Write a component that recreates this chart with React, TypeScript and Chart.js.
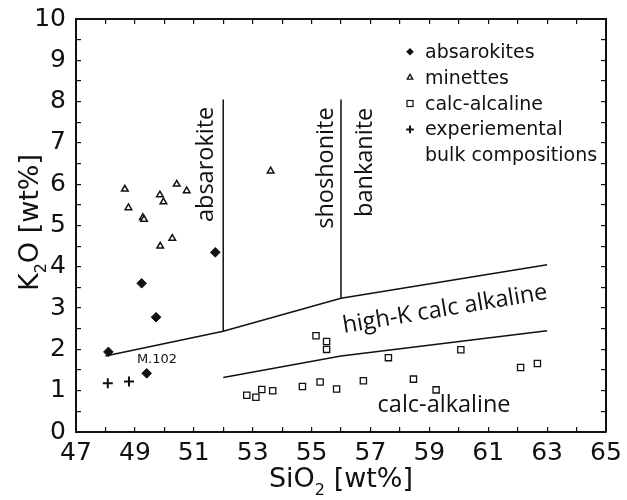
import { useEffect, useRef } from 'react';
import { Chart, registerables } from 'chart.js';

Chart.register(...registerables);

type Pt = [number, number];

// SiO2 [wt%], K2O [wt%]
const absarokites: Pt[] = [
  [48.1, 1.94], [49.23, 3.6], [49.72, 2.78], [49.4, 1.42], [51.73, 4.35],
];
const minettes: Pt[] = [
  [48.66, 5.88], [48.78, 5.43], [49.27, 5.19], [49.31, 5.15], [49.85, 5.74],
  [49.97, 5.57], [50.42, 6.0], [50.76, 5.84], [50.27, 4.69], [49.86, 4.5],
  [53.61, 6.32],
];
const calcAlcaline: Pt[] = [
  [52.8, 0.89], [53.11, 0.84], [53.31, 1.03], [53.68, 1.0], [54.69, 1.1],
  [55.29, 1.21], [55.85, 1.04], [56.76, 1.24], [57.61, 1.8], [58.46, 1.28],
  [59.23, 1.02], [60.07, 1.99], [62.1, 1.56], [62.67, 1.66], [55.15, 2.33],
  [55.51, 2.19], [55.51, 2.0],
];
const experimental: Pt[] = [[48.08, 1.18], [48.8, 1.22]];

// field boundaries
const shoshoniteBoundary: Pt[] = [[48, 1.84], [52, 2.44], [56, 3.24], [63, 4.05]];
const highKBoundary: Pt[] = [[52, 1.32], [56, 1.84], [63, 2.45]];
// vertical dividers: SiO2, lower K2O, upper K2O
const dividers: [number, number, number][] = [[52, 2.44, 8.05], [56, 3.24, 8.05]];

const xTickLabels = ['47', '49', '51', '53', '55', '57', '59', '61', '63', '65'];
const yTickLabels = ['0', '1', '2', '3', '4', '5', '6', '7', '8', '9', '10'];

const legendLabels = ['absarokites', 'minettes', 'calc-alcaline', 'experiemental', 'bulk compositions'];
const fieldNames = ['absarokite', 'shoshonite', 'bankanite', 'high-K calc alkaline', 'calc-alkaline'];
const sampleName = 'M.102';

// anchor (SiO2, K2O) of each field name baseline, and its rotation in degrees
const fieldPlacement: { x: number; y: number; angle: number }[] = [
  { x: 51.65, y: 6.48, angle: -90 },
  { x: 55.74, y: 6.39, angle: -90 },
  { x: 57.04, y: 6.53, angle: -90 },
  { x: 59.57, y: 2.81, angle: -9.5 },
  { x: 59.5, y: 0.49, angle: 0 },
];
const samplePlacement = { x: 49.75, y: 1.66 };

const INK = '#111';
const TICK_FONT = '"DejaVu Sans", sans-serif';
const FIELD_FONT = '"Open Sans", sans-serif';

const toXY = (pts: Pt[]) => pts.map(([x, y]) => ({ x, y }));

function drawSubscripted(ctx: any, parts: string[], size: number) {
  // parts: [base, subscript, rest]; drawn centred on the current origin, on the baseline
  const subSize = Math.round(size * 0.6);
  ctx.font = `${size}px ${TICK_FONT}`;
  const w0 = ctx.measureText(parts[0]).width;
  const w2 = ctx.measureText(parts[2]).width;
  ctx.font = `${subSize}px ${TICK_FONT}`;
  const w1 = ctx.measureText(parts[1]).width;
  let x = -(w0 + w1 + w2) / 2;
  ctx.textAlign = 'left';
  ctx.textBaseline = 'alphabetic';
  ctx.font = `${size}px ${TICK_FONT}`;
  ctx.fillText(parts[0], x, 0);
  x += w0;
  ctx.font = `${subSize}px ${TICK_FONT}`;
  ctx.fillText(parts[1], x, 8);
  x += w1;
  ctx.font = `${size}px ${TICK_FONT}`;
  ctx.fillText(parts[2], x, 0);
}

function legendMarker(ctx: any, kind: number, x: number, y: number) {
  ctx.save();
  ctx.strokeStyle = INK;
  ctx.fillStyle = INK;
  ctx.beginPath();
  if (kind === 0) {
    const r = 3.8;
    ctx.moveTo(x - r, y);
    ctx.lineTo(x, y - r);
    ctx.lineTo(x + r, y);
    ctx.lineTo(x, y + r);
    ctx.closePath();
    ctx.fill();
  } else if (kind === 1) {
    const r = 3.2;
    ctx.lineWidth = 1.3;
    ctx.moveTo(x, y - r);
    ctx.lineTo(x + r * 0.866, y + r * 0.5);
    ctx.lineTo(x - r * 0.866, y + r * 0.5);
    ctx.closePath();
    ctx.stroke();
  } else if (kind === 2) {
    ctx.lineWidth = 1.2;
    ctx.strokeRect(x - 3, y - 3, 6, 6);
  } else {
    const r = 3.8;
    ctx.lineWidth = 2;
    ctx.moveTo(x - r, y);
    ctx.lineTo(x + r, y);
    ctx.moveTo(x, y - r);
    ctx.lineTo(x, y + r);
    ctx.stroke();
  }
  ctx.restore();
}

const annotationPlugin = {
  id: 'diagramAnnotations',
  afterDatasetsDraw(chart: any) {
    const { ctx, chartArea } = chart;
    const xs = chart.scales.x;
    const ys = chart.scales.y;
    ctx.save();
    ctx.fillStyle = INK;

    // field names
    fieldNames.forEach((name, i) => {
      const p = fieldPlacement[i];
      ctx.save();
      ctx.translate(xs.getPixelForValue(p.x), ys.getPixelForValue(p.y));
      ctx.rotate((p.angle * Math.PI) / 180);
      ctx.font = `23.5px ${FIELD_FONT}`;
      ctx.textAlign = 'center';
      ctx.textBaseline = 'alphabetic';
      ctx.fillText(name, 0, 0);
      ctx.restore();
    });

    // sample label
    ctx.font = `13px ${TICK_FONT}`;
    ctx.textAlign = 'center';
    ctx.textBaseline = 'alphabetic';
    ctx.fillText(sampleName, xs.getPixelForValue(samplePlacement.x), ys.getPixelForValue(samplePlacement.y));

    // legend
    const lx = chartArea.right - 181;
    const ly = chartArea.top + 38.7;
    const rowH = 25.9;
    ctx.font = `19px ${TICK_FONT}`;
    ctx.textAlign = 'left';
    legendLabels.forEach((label, i) => {
      ctx.fillText(label, lx, ly + i * rowH);
      if (i < 4) legendMarker(ctx, i, lx - 15, ly + i * rowH - 6);
    });

    ctx.restore();
  },
  afterDraw(chart: any) {
    const { ctx, chartArea } = chart;
    ctx.save();
    ctx.fillStyle = INK;
    // x-axis title
    ctx.save();
    ctx.translate((chartArea.left + chartArea.right) / 2, chartArea.bottom + 55);
    drawSubscripted(ctx, ['SiO', '2', ' [wt%]'], 27);
    ctx.restore();
    // y-axis title
    ctx.save();
    ctx.translate(chartArea.left - 38, (chartArea.top + chartArea.bottom) / 2 - 3);
    ctx.rotate(-Math.PI / 2);
    drawSubscripted(ctx, ['K', '2', 'O [wt%]'], 27);
    ctx.restore();
    ctx.restore();
  },
};

function axis(position: string, min: number, max: number, step: number, size: number, labels: string[] | null) {
  return {
    type: 'linear',
    position,
    min,
    max,
    ticks: {
      display: labels !== null,
      stepSize: step,
      autoSkip: false,
      maxRotation: 0,
      minRotation: 0,
      color: INK,
      font: { family: TICK_FONT, size: 25 },
      padding: position === 'bottom' ? 11 : 15,
      callback: (v: number) => (labels && labels.includes(String(v)) ? String(v) : ''),
    },
    grid: {
      drawOnChartArea: false,
      drawTicks: true,
      tickLength: -5,
      color: INK,
      lineWidth: 1.2,
    },
    border: { display: true, color: INK, width: 2 },
    afterFit: (scale: any) => {
      if (position === 'bottom' || position === 'top') scale.height = size;
      else scale.width = size;
      // the frame is fixed by the box sizes above; labels may overhang it
      scale.paddingTop = 0;
      scale.paddingBottom = 0;
      scale.paddingLeft = 0;
      scale.paddingRight = 0;
    },
  };
}

export default function App() {
  const canvasRef = useRef<HTMLCanvasElement | null>(null);

  useEffect(() => {
    const canvas = canvasRef.current;
    if (!canvas) return;
    const pointSet = (pts: Pt[], extra: any) => ({
      data: toXY(pts),
      showLine: false,
      borderColor: INK,
      ...extra,
    });
    const lineSet = (pts: Pt[]) => ({
      data: toXY(pts),
      showLine: true,
      pointRadius: 0,
      borderColor: INK,
      borderWidth: 1.5,
      fill: false,
      tension: 0,
    });
    const chart = new Chart(canvas, {
      type: 'scatter',
      data: {
        datasets: [
          pointSet(absarokites, { label: legendLabels[0], pointStyle: 'rectRot', pointRadius: 4.8, backgroundColor: INK, borderWidth: 1 }),
          pointSet(minettes, { label: legendLabels[1], pointStyle: 'triangle', pointRadius: 3.8, backgroundColor: '#fff', borderWidth: 1.5 }),
          pointSet(calcAlcaline, { label: legendLabels[2], pointStyle: 'rect', pointRadius: 4.4, backgroundColor: '#fff', borderWidth: 1.3 }),
          pointSet(experimental, { label: legendLabels[3], pointStyle: 'cross', pointRadius: 5, borderWidth: 2 }),
          lineSet(shoshoniteBoundary),
          lineSet(highKBoundary),
          ...dividers.map(([x, lo, hi]) => lineSet([[x, lo], [x, hi]])),
        ],
      },
      options: {
        responsive: false,
        animation: false,
        events: [],
        layout: { padding: 0 },
        plugins: {
          legend: { display: false },
          tooltip: { enabled: false },
        },
        scales: {
          x: axis('bottom', 47, 65, 1, 68, xTickLabels),
          x2: axis('top', 47, 65, 1, 19, null),
          y: axis('left', 0, 10, 0.5, 76, yTickLabels),
          y2: axis('right', 0, 10, 0.5, 21, null),
        },
      } as any,
      plugins: [annotationPlugin],
    });
    return () => chart.destroy();
  }, []);

  return (
    <div style={{ position: 'fixed', left: 0, top: 0, width: 627, height: 500, background: '#fff' }}>
      <canvas ref={canvasRef} width={627} height={500} />
    </div>
  );
}
